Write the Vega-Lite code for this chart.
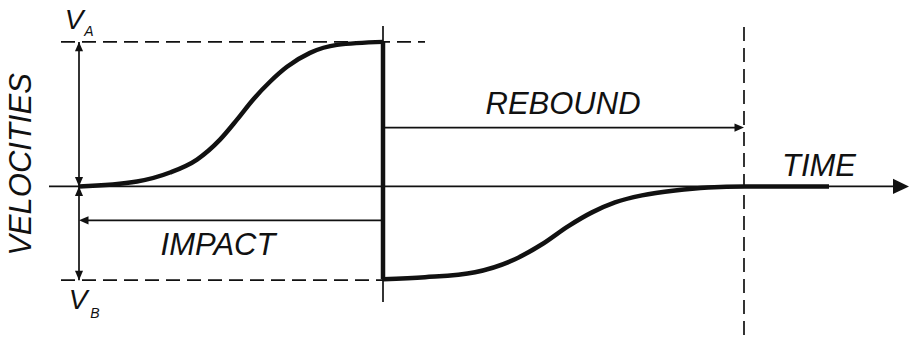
{
  "$schema": "https://vega.github.io/schema/vega-lite/v6.json",
  "width": 911,
  "height": 337,
  "autosize": {"type": "fit", "contains": "padding"},
  "padding": 0,
  "background": "white",
  "config": {"view": {"stroke": null}},
  "datasets": {
    "curve": [
      {"seg": "impact", "o": 0, "t": 0.0, "v": 0.0},
      {"seg": "impact", "o": 1, "t": 0.58, "v": 0.05},
      {"seg": "impact", "o": 2, "t": 0.91, "v": 0.14},
      {"seg": "impact", "o": 3, "t": 1.18, "v": 0.27},
      {"seg": "impact", "o": 4, "t": 1.41, "v": 0.47},
      {"seg": "impact", "o": 5, "t": 1.58, "v": 0.67},
      {"seg": "impact", "o": 6, "t": 1.74, "v": 0.87},
      {"seg": "impact", "o": 7, "t": 1.91, "v": 1.05},
      {"seg": "impact", "o": 8, "t": 2.08, "v": 1.2},
      {"seg": "impact", "o": 9, "t": 2.31, "v": 1.34},
      {"seg": "impact", "o": 10, "t": 2.58, "v": 1.42},
      {"seg": "impact", "o": 11, "t": 3.04, "v": 1.45},
      {"seg": "jump", "o": 0, "t": 3.04, "v": 1.45},
      {"seg": "jump", "o": 1, "t": 3.04, "v": -0.93},
      {"seg": "rebound", "o": 0, "t": 3.04, "v": -0.93},
      {"seg": "rebound", "o": 1, "t": 3.46, "v": -0.91},
      {"seg": "rebound", "o": 2, "t": 3.96, "v": -0.86},
      {"seg": "rebound", "o": 3, "t": 4.36, "v": -0.73},
      {"seg": "rebound", "o": 4, "t": 4.63, "v": -0.58},
      {"seg": "rebound", "o": 5, "t": 4.89, "v": -0.4},
      {"seg": "rebound", "o": 6, "t": 5.13, "v": -0.26},
      {"seg": "rebound", "o": 7, "t": 5.36, "v": -0.16},
      {"seg": "rebound", "o": 8, "t": 5.63, "v": -0.09},
      {"seg": "rebound", "o": 9, "t": 5.96, "v": -0.04},
      {"seg": "rebound", "o": 10, "t": 6.29, "v": -0.01},
      {"seg": "rebound", "o": 11, "t": 6.66, "v": 0.0},
      {"seg": "rebound", "o": 12, "t": 7.5, "v": 0.0}
    ],
    "solid": [
      {"name": "time axis", "t": -0.3, "t2": 8.2, "v": 0, "v2": 0},
      {"name": "velocity range", "t": 0, "t2": 0, "v": 1.45, "v2": -0.94},
      {"name": "impact instant", "t": 3.04, "t2": 3.04, "v": 1.61, "v2": -1.16},
      {"name": "rebound span", "t": 3.04, "t2": 6.6, "v": 0.59, "v2": 0.59},
      {"name": "impact span", "t": 0.05, "t2": 3.04, "v": -0.34, "v2": -0.34}
    ],
    "dashed": [
      {"name": "VA level", "t": -0.18, "t2": 3.46, "v": 1.45, "v2": 1.45},
      {"name": "VB level", "t": -0.18, "t2": 3.04, "v": -0.94, "v2": -0.94},
      {"name": "rebound end", "t": 6.65, "t2": 6.65, "v": 1.6, "v2": -1.5}
    ],
    "heads": [
      {"dir": "up", "t": 0, "v": 1.45},
      {"dir": "down", "t": 0, "v": 0.0},
      {"dir": "up", "t": 0, "v": 0.0},
      {"dir": "down", "t": 0, "v": -0.94},
      {"dir": "right", "t": 6.65, "v": 0.59},
      {"dir": "left", "t": 0, "v": -0.34}
    ],
    "axishead": [{"t": 8.3, "v": 0}],
    "labels": [
      {"label": "REBOUND", "t": 4.84, "v": 0.815, "angle": 0},
      {"label": "IMPACT", "t": 1.39, "v": -0.6, "angle": 0},
      {"label": "TIME", "t": 7.4, "v": 0.2, "angle": 0},
      {"label": "VELOCITIES", "t": -0.57, "v": 0.22, "angle": 270}
    ],
    "vlabels": [
      {"label": "V", "t": -0.05, "v": 1.66},
      {"label": "V", "t": -0.01, "v": -1.15}
    ],
    "subs": [
      {"label": "A", "t": 0.1, "v": 1.55},
      {"label": "B", "t": 0.16, "v": -1.28}
    ]
  },
  "encoding": {
    "x": {"field": "t", "type": "quantitative", "scale": {"domain": [-0.79, 8.32], "nice": false, "zero": false}, "axis": null},
    "y": {"field": "v", "type": "quantitative", "scale": {"domain": [-1.5, 1.87], "nice": false, "zero": false}, "axis": null}
  },
  "layer": [
    {
      "data": {"name": "dashed"},
      "mark": {"type": "rule", "color": "#111111", "strokeWidth": 1.7, "strokeDash": [14, 7]},
      "encoding": {"x2": {"field": "t2"}, "y2": {"field": "v2"}}
    },
    {
      "data": {"name": "solid"},
      "mark": {"type": "rule", "color": "#111111", "strokeWidth": 1.7},
      "encoding": {"x2": {"field": "t2"}, "y2": {"field": "v2"}}
    },
    {
      "data": {"name": "curve"},
      "mark": {"type": "line", "color": "#111111", "strokeWidth": 4.5, "interpolate": "monotone", "strokeCap": "butt", "strokeJoin": "miter"},
      "encoding": {"detail": {"field": "seg"}, "order": {"field": "o", "type": "quantitative"}}
    },
    {
      "data": {"name": "heads"},
      "mark": {"type": "point", "filled": true, "color": "#111111", "opacity": 1, "size": 90, "strokeWidth": 0},
      "encoding": {
        "shape": {"field": "dir", "type": "nominal", "legend": null,
          "scale": {"domain": ["up", "down", "left", "right"],
            "range": ["M0,0L-0.85,2L0.85,2Z", "M0,0L-0.85,-2L0.85,-2Z", "M0,0L2,-0.85L2,0.85Z", "M0,0L-2,-0.85L-2,0.85Z"]}}
      }
    },
    {
      "data": {"name": "axishead"},
      "mark": {"type": "point", "filled": true, "color": "#111111", "opacity": 1, "size": 256, "strokeWidth": 0, "shape": "M0,0L-2,-0.95L-2,0.95Z"}
    },
    {
      "data": {"name": "labels"},
      "mark": {"type": "text", "font": "Liberation Sans", "fontStyle": "italic", "fontSize": 31, "color": "#111111", "align": "center", "baseline": "middle"},
      "encoding": {"text": {"field": "label"}, "angle": {"field": "angle", "type": "quantitative", "scale": null}}
    },
    {
      "data": {"name": "vlabels"},
      "mark": {"type": "text", "font": "Liberation Sans", "fontStyle": "italic", "fontSize": 28, "color": "#111111", "align": "center", "baseline": "middle"},
      "encoding": {"text": {"field": "label"}}
    },
    {
      "data": {"name": "subs"},
      "mark": {"type": "text", "font": "Liberation Sans", "fontStyle": "italic", "fontSize": 14, "color": "#111111", "align": "center", "baseline": "middle"},
      "encoding": {"text": {"field": "label"}}
    }
  ]
}
